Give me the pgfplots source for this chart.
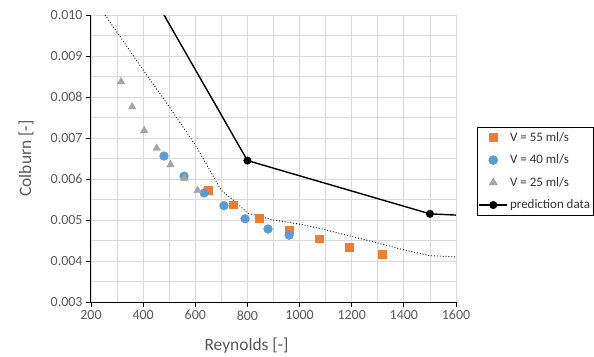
\documentclass[border=0pt]{standalone}
\usepackage{fontspec}
\setmainfont{Carlito}
\usepackage{pgfplots}
\pgfplotsset{compat=1.18}
\definecolor{c55}{HTML}{ED7D31}
\definecolor{c40}{HTML}{5B9BD5}
\definecolor{c25}{HTML}{A5A5A5}
\definecolor{gridc}{HTML}{D9D9D9}
\definecolor{txt}{HTML}{595959}
\begin{document}
\begin{tikzpicture}
\begin{axis}[
  scale only axis, width=365bp, height=287bp,
  at={(0,0)}, anchor=south west,
  xmin=200, xmax=1600, ymin=0.003, ymax=0.010,
  xtick={200,400,...,1600}, minor x tick num=1,
  ytick={0.003,0.004,0.005,0.006,0.007,0.008,0.009,0.010}, minor y tick num=1,
  grid=both,
  major grid style={gridc, line width=0.8bp},
  minor grid style={gridc, line width=0.8bp},
  axis x line=bottom, axis y line=left,
  axis line style={-, black, line width=1bp},
  tick align=outside, major tick length=5bp, minor tick length=0pt,
  tick style={black, line width=0.8bp},
  scaled y ticks=false,
  yticklabel style={/pgf/number format/.cd, fixed, fixed zerofill, precision=3},
  xticklabel style={/pgf/number format/.cd, fixed, 1000 sep={}},
  /pgf/number format/assume math mode=true,
  ticklabel style={font=\fontsize{14}{16}\selectfont, text=txt},
  xlabel={Reynolds [-]}, ylabel={Colburn [-]},
  xlabel style={at={(axis description cs:0.426,-0.153)}, anchor=center, font=\fontsize{17.5}{20}\selectfont, text=txt},
  ylabel style={at={(axis description cs:-0.178,0.5)}, anchor=center, font=\fontsize{17.5}{20}\selectfont, text=txt},
  legend style={at={(axis description cs:1.0575,0.6098)}, anchor=north west,
    draw=black, line width=0.8bp, font=\fontsize{13}{15}\selectfont,
    inner xsep=1bp, inner ysep=3bp, row sep=8bp, text=black!80},
  legend cell align=left,
  legend image code/.code={\draw[#1] plot coordinates {(0.5cm,0cm)};},
]
% dotted correlation line
\addplot[black, dotted, line width=0.9bp, forget plot] coordinates {
(254,0.0100)(400,0.00866)(500,0.00776)(600,0.00683)(700,0.00572)(760,0.00541)(800,0.00517)
(900,0.00500)(1000,0.00490)(1100,0.00476)(1200,0.00460)(1300,0.00444)(1400,0.00427)(1500,0.00413)(1600,0.00410)};
\addplot[only marks, mark=square*, mark size=3.8bp, mark options={fill=c55, draw=c55}] coordinates {
(649,0.00573)(745,0.00537)(844,0.00504)(960,0.00476)(1075,0.00454)(1190,0.00434)(1316,0.00417)};
\addlegendentry{V = 55 ml/s}
\addplot[only marks, mark=*, mark size=4.4bp, mark options={fill=c40, draw=c40}] coordinates {
(480,0.00656)(557,0.00607)(634,0.00566)(710,0.00535)(791,0.00503)(879,0.00478)(960,0.00463)};
\addlegendentry{V = 40 ml/s}
\addplot[only marks, mark=triangle*, mark size=4.4bp, mark options={fill=c25, draw=c25}] coordinates {
(315,0.00837)(358,0.00776)(404,0.00718)(452,0.00675)(505,0.00635)(558,0.00602)(609,0.00572)};
\addlegendentry{V = 25 ml/s}
\addplot[black, line width=1.4bp, mark=*, mark size=3.3bp, mark indices={2,3}, mark options={fill=black},
  legend image code/.code={\draw[black, line width=1.4bp] (0cm,0cm) -- (1cm,0cm); \fill[black] (0.5cm,0cm) circle (3.3bp);}] coordinates {
(480,0.0100)(800,0.00645)(1500,0.00515)(1600,0.00512)};
\addlegendentry{prediction data}
\end{axis}
\pgfresetboundingbox
\path[use as bounding box] (-91bp,-55bp) rectangle (503bp,302bp);
\end{tikzpicture}
\end{document}
